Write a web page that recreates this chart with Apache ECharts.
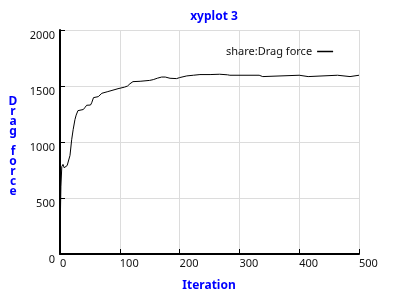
<!DOCTYPE html>
<html>
<head>
<meta charset="utf-8">
<script src="https://cdn.jsdelivr.net/npm/echarts@6/dist/echarts.min.js"></script>
<style>html,body{margin:0;padding:0;background:#fff}#c{width:393px;height:295px}</style>
</head>
<body>
<div id="c"></div>
<script>
var iterations = [0, 0.5, 1.5, 3, 5, 7, 9.5, 12, 14, 16.7, 19.5, 22, 25, 27, 30, 33, 39, 42, 44.6, 51, 53, 56, 64, 66, 70, 80, 83, 97, 100, 108, 113, 117, 122, 134, 150, 156, 163, 170, 176, 184, 195, 200, 212, 223, 234, 251, 254, 267, 280, 284, 333, 334, 339, 340, 400, 401, 415, 416, 464, 465, 485, 486, 500];
var dragForce = [0, 300, 600, 780, 800, 770, 770, 790, 800, 880, 1020, 1110, 1200, 1240, 1280, 1285, 1290, 1310, 1328, 1330, 1350, 1396, 1405, 1420, 1435, 1450, 1465, 1476, 1480, 1490, 1500, 1520, 1539, 1542, 1550, 1557, 1570, 1580, 1580, 1569, 1566, 1575, 1590, 1596, 1602, 1602, 1607, 1605, 1600, 1596, 1596, 1584, 1584, 1596, 1596, 1584, 1584, 1596, 1596, 1584, 1584, 1596, 1596];
var xTicks = [0, 100, 200, 300, 400, 500];
var yTicks = [0, 500, 1000, 1500, 2000];
var titleText = 'xyplot 3';
var xName = 'Iteration';
var yName = 'Drag force';
var seriesName = 'share:Drag force';

var points = iterations.map(function (x, i) { return [x, dragForce[i]]; });
var font = 'Noto Sans';
var chart = echarts.init(document.getElementById('c'));
chart.setOption({
  animation: false,
  backgroundColor: '#fff',
  title: {
    text: titleText, left: 209, top: 6, textAlign: 'center',
    textStyle: { color: '#0000ff', fontSize: 12, fontWeight: 'bold', fontFamily: font }
  },
  legend: {
    left: 221, top: 41, align: 'right', itemWidth: 16, itemHeight: 1.5, itemGap: 0, itemTextGap: 16,
    icon: 'rect',
    textStyle: { color: '#111', fontSize: 11, fontFamily: font },
    data: [{ name: seriesName, itemStyle: { color: '#000' } }]
  },
  grid: { left: 60, right: 34, top: 30, bottom: 41, containLabel: false },
  xAxis: {
    type: 'value', min: xTicks[0], max: xTicks[xTicks.length - 1], interval: 100,
    axisLine: { lineStyle: { color: '#000', width: 2 } },
    axisTick: { inside: true, length: 5, lineStyle: { color: '#000', width: 1 } },
    axisLabel: { align: 'left', margin: 4, color: '#111', fontSize: 11, fontFamily: font,
      formatter: function (v) { return String(v); } },
    splitLine: { show: true, lineStyle: { color: '#dcdcdc', width: 1 } }
  },
  yAxis: {
    type: 'value', min: yTicks[0], max: yTicks[yTicks.length - 1], interval: 500,
    axisLine: { show: true, lineStyle: { color: '#000', width: 2 } },
    axisTick: { show: true, inside: true, length: 5, lineStyle: { color: '#000', width: 1 } },
    axisLabel: { margin: 5, verticalAlign: 'top', color: '#111', fontSize: 11, fontFamily: font,
      formatter: function (v) { return String(v); } },
    splitLine: { show: true, lineStyle: { color: '#dcdcdc', width: 1 } }
  },
  graphic: [
    {
      type: 'text', x: 209, y: 280,
      style: { text: xName, fill: '#0000ff', font: 'bold 12px "Noto Sans"', textAlign: 'center' }
    },
    {
      type: 'text', x: 13, y: 97,
      style: {
        text: yName.split('').join('\n'), fill: '#0000ff', font: 'bold 12px "Noto Sans"',
        textAlign: 'center', lineHeight: 10
      }
    }
  ],
  series: [{
    name: seriesName, type: 'line', data: points, showSymbol: false, symbol: 'none',
    lineStyle: { color: '#000', width: 1 }, itemStyle: { color: '#000' }
  }]
});
</script>
</body>
</html>
